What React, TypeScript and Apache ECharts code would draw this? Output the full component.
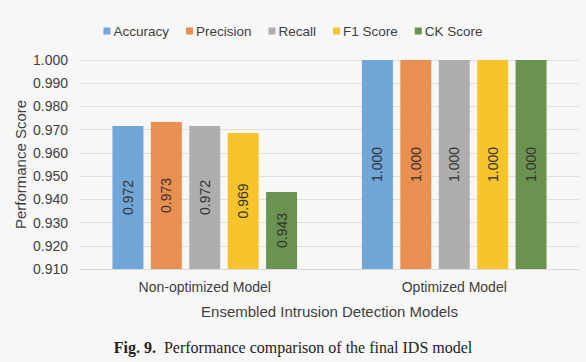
import React, { useEffect, useRef } from "react";
import * as echarts from "echarts";

const categories = ["Non-optimized Model", "Optimized Model"];
const seriesNames = ["Accuracy", "Precision", "Recall", "F1 Score", "CK Score"];
const accuracy = [0.9716, 1.0];
const precision = [0.9733, 1.0];
const recall = [0.9716, 1.0];
const f1Score = [0.9686, 1.0];
const ckScore = [0.9432, 1.0];
const colors = ["#70A6D8", "#EA8F52", "#AEAEAE", "#F7C42C", "#6A9350"];

export default function App() {
  const ref = useRef<HTMLDivElement>(null);
  useEffect(() => {
    if (!ref.current) return;
    const chart = echarts.init(ref.current, undefined, { renderer: "svg" });
    const values = [accuracy, precision, recall, f1Score, ckScore];
    const font = "Liberation Sans";
    const serif = "Liberation Serif";
    chart.setOption({
      animation: false,
      backgroundColor: "#F7F7F7",
      textStyle: { fontFamily: font },
      legend: {
        top: 19,
        left: "center",
        itemWidth: 7,
        itemHeight: 7,
        itemGap: 17,
        icon: "rect",
        textStyle: { fontSize: 13.5, color: "#404040", fontFamily: font, padding: [0, 0, 0, -2] },
        data: seriesNames,
      },
      grid: { left: 80, right: 7, top: 60, bottom: 93, containLabel: false },
      xAxis: {
        type: "category",
        data: categories,
        name: "Ensembled Intrusion Detection Models",
        nameLocation: "middle",
        nameGap: 35,
        nameMoveOverlap: false,
        nameTextStyle: { fontSize: 15, color: "#404040", fontFamily: font },
        axisLine: { show: true, lineStyle: { color: "#D9D9D9" } },
        axisTick: { show: false },
        axisLabel: { fontSize: 14, color: "#404040", margin: 11, fontFamily: font },
      },
      yAxis: {
        type: "value",
        min: 0.91,
        max: 1.0,
        interval: 0.01,
        name: "Performance Score",
        nameLocation: "middle",
        nameGap: 52,
        nameMoveOverlap: false,
        nameTextStyle: { fontSize: 15, color: "#404040", fontFamily: font },
        axisLine: { show: false },
        axisTick: { show: false },
        splitLine: { lineStyle: { color: "#DEDEDE", width: 1 } },
        axisLabel: {
          fontSize: 14,
          color: "#404040",
          margin: 12,
          fontFamily: font,
          formatter: (v: number) => v.toFixed(3),
        },
      },
      series: seriesNames.map((name, i) => ({
        name,
        type: "bar",
        data: values[i],
        barGap: "24%",
        barCategoryGap: "26%",
        itemStyle: { color: colors[i] },
        label: {
          show: true,
          position: "inside",
          rotate: 90,
          fontSize: 14,
          color: "#333333",
          fontFamily: font,
          formatter: (p: any) => Number(p.value).toFixed(3),
        },
      })),
      graphic: [
        {
          type: "text",
          left: "center",
          top: 339,
          style: {
            text: "{b|Fig. 9.}  Performance comparison of the final IDS model",
            fontSize: 16,
            fontFamily: serif,
            fill: "#222222",
            rich: {
              b: {
                fontWeight: "bold",
                fontSize: 16,
                fontFamily: serif,
                fill: "#222222",
              },
            },
          },
        },
      ],
    });
    return () => chart.dispose();
  }, []);
  return (
    <div
      ref={ref}
      style={{ position: "absolute", left: 0, top: 0, width: 586, height: 362 }}
    />
  );
}
